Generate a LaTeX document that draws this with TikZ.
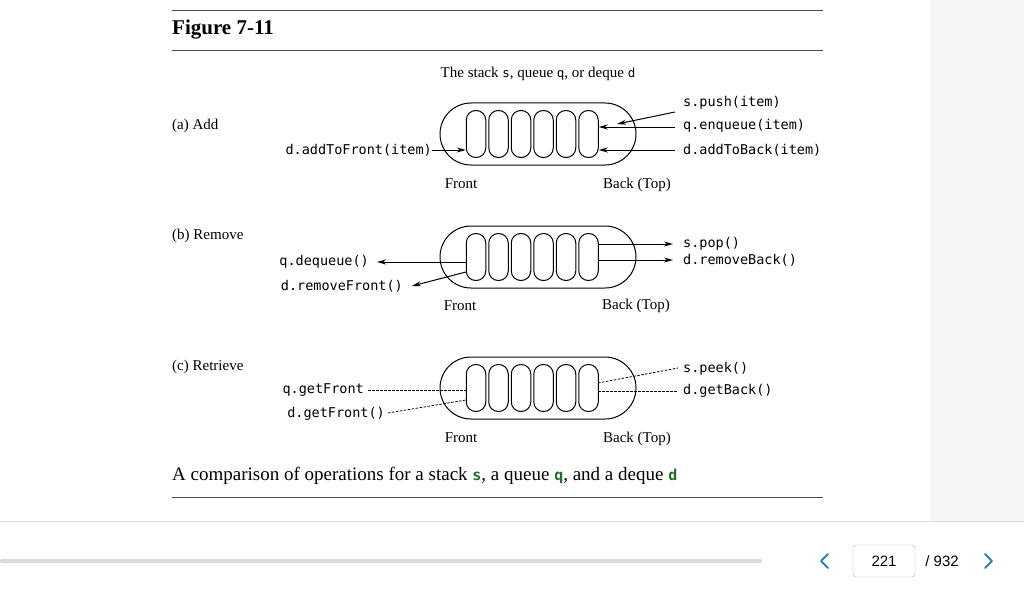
\documentclass[tikz,border=0pt]{standalone}
\usepackage{fontspec}
\setmainfont{Liberation Serif}
\newfontfamily\cmono{DejaVu Sans Mono}
\newfontfamily\usans{Liberation Sans}
\usetikzlibrary{arrows.meta}
\definecolor{codegreen}{HTML}{1E6B2A}
\definecolor{navblue}{HTML}{2F7FB5}
\begin{document}
\begin{tikzpicture}[x=1pt,y=-1pt,
  lab/.style={font=\cmono\fontsize{13.5}{14}\selectfont,inner sep=0pt},
  ser/.style={font=\fontsize{15}{16}\selectfont,inner sep=0pt},
  arr/.style={line width=1pt,-{Stealth[length=9pt,width=5pt]}},
  dsh/.style={line width=0.8pt,dashed,dash pattern=on 2.5pt off 1.5pt},
  rule/.style={line width=0.6pt,black!70},
  chev/.style={navblue,line width=2pt,line cap=round,line join=round}]
\useasboundingbox (0,0) rectangle (1024,599);
\fill[gray!7] (930,0) rectangle (1024,521);
\draw[gray!30,line width=0.8pt] (0,521.5) -- (1024,521.5);
\draw[rule] (172,10) -- (823,10);
\draw[rule] (172,50) -- (823,50);
\draw[rule] (172,497) -- (823,497);
\node[anchor=west,inner sep=0pt,font=\bfseries\fontsize{21}{22}\selectfont] (title) at (172,30) {Figure 7-11};
\node[ser] (hdr) at (538,74) {The stack {\cmono\fontsize{12.5}{13}\selectfont s}, queue {\cmono\fontsize{12.5}{13}\selectfont q}, or deque {\cmono\fontsize{12.5}{13}\selectfont d}};
% queue shapes
\foreach \n/\cy in {a/134,b/257,c/388}{
  \node[draw,line width=1pt,rounded corners=31pt,minimum width=196pt,minimum height=62pt] (cap\n) at (538,\cy) {};
  \foreach \i in {0,...,5}{
    \node[draw,line width=1pt,rounded corners=9.5pt,minimum width=19.5pt,minimum height=47pt,inner sep=0pt] (o\n\i) at (476+22.5*\i,\cy) {};
  }
}
% (a)
\node[ser,anchor=west] (la) at (172,126) {(a) Add};
\node[lab,anchor=east] (atf) at (432,150) {d.addToFront(item)};
\node[lab,anchor=west] (push) at (683,103) {s.push(item)};
\node[lab,anchor=west] (enq) at (683,126) {q.enqueue(item)};
\node[lab,anchor=west] (atb) at (683,150) {d.addToBack(item)};
\draw[arr] (atf.east) -- (oa0.west|-atf.east);
\coordinate (pushs) at (675,112);
\coordinate (enqs) at (675,127);
\coordinate (atbs) at (675,150);
\draw[arr] (pushs) -- (617,124);
\draw[arr] (enqs) -- (oa5.east|-enqs);
\draw[arr] (atbs) -- (oa5.east|-atbs);
\node[ser] (fa) at (461,184) {Front};
\node[ser] (ba) at (637,185) {Back (Top)};
% (b)
\node[ser,anchor=west] (lb) at (172,236) {(b) Remove};
\node[lab,anchor=west] (pop) at (683,244) {s.pop()};
\node[lab,anchor=west] (rb) at (683,260) {d.removeBack()};
\node[lab,anchor=east] (deq) at (369,262) {q.dequeue()};
\node[lab,anchor=east] (rf) at (403,286) {d.removeFront()};
\draw[arr] (ob5.east|-pop) -- (673,244);
\draw[arr] (ob5.east|-rb) -- (673,260);
\draw[arr] (ob0.west|-deq) -- (377,262);
\draw[arr] (466,272) -- (412,286);
\node[ser] (fb) at (460,306) {Front};
\node[ser] (bb) at (636,306) {Back (Top)};
% (c)
\node[ser,anchor=west] (lc) at (172,367) {(c) Retrieve};
\node[lab,anchor=west] (peek) at (683,369) {s.peek()};
\node[lab,anchor=west] (gb) at (683,391) {d.getBack()};
\node[lab,anchor=east] (gfq) at (364,390) {q.getFront};
\node[lab,anchor=east] (gfd) at (385,414) {d.getFront()};
\draw[dsh] (598,383) -- (678,368);
\draw[dsh] (598,391) -- (678,391);
\draw[dsh] (368,390) -- (466,390);
\draw[dsh] (388,413) -- (466,400);
\node[ser] (fc) at (461,438) {Front};
\node[ser] (bc) at (637,439) {Back (Top)};
% caption
\node[anchor=west,inner sep=0pt,font=\fontsize{19}{20}\selectfont] (cap) at (172,476) {A comparison of operations for a stack {\cmono\bfseries\fontsize{15}{16}\selectfont\color{codegreen}s}, a queue {\cmono\bfseries\fontsize{15}{16}\selectfont\color{codegreen}q}, and a deque {\cmono\bfseries\fontsize{15}{16}\selectfont\color{codegreen}d}};
% bottom bar
\draw[gray!30,line width=4pt,line cap=round] (2,561) -- (760,561);
\draw[chev] (828,554) -- (821,561) -- (828,568);
\node[draw=gray!60,rounded corners=3pt,minimum width=62pt,minimum height=32pt,font=\usans\fontsize{15}{16}\selectfont] (pg) at (884,561) {221};
\node[font=\usans\fontsize{15}{16}\selectfont] (tot) at (942,561) {/ 932};
\draw[chev] (985,554) -- (992,561) -- (985,568);
\end{tikzpicture}
\end{document}
